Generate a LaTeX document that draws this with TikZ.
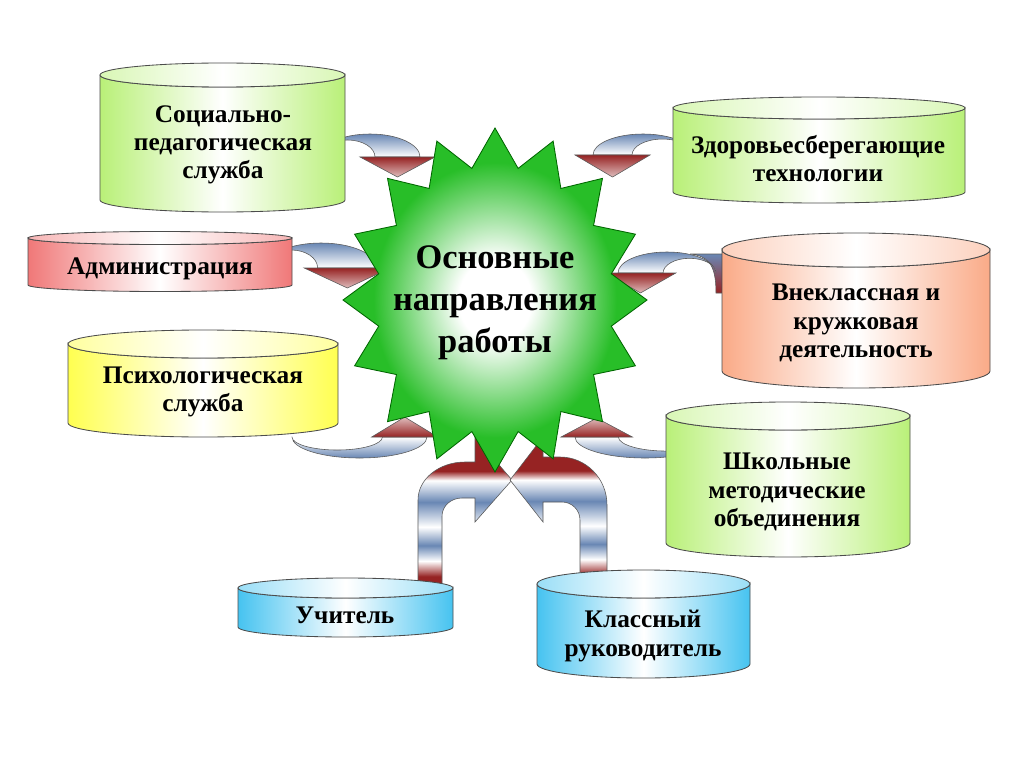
\documentclass[tikz,border=0pt]{standalone}
\usepackage{fontspec}
\setmainfont{Liberation Serif}
\usetikzlibrary{calc}

\definecolor{drumgreen}{RGB}{185,240,120}
\definecolor{drumpink}{RGB}{240,120,120}
\definecolor{drumpeach}{RGB}{250,170,135}
\definecolor{drumyellow}{RGB}{255,255,80}
\definecolor{drumblue}{RGB}{70,195,240}
\definecolor{stargreen}{RGB}{40,190,40}
\definecolor{steel}{RGB}{105,135,180}
\definecolor{headred}{RGB}{150,35,35}

% metal look of the two bent arrows
\pgfdeclareverticalshading{pipe}{100bp}{color(0bp)=(headred); color(25bp)=(headred); color(30bp)=(headred);
  color(35bp)=(white); color(40bp)=(steel); color(46bp)=(white); color(54bp)=(steel);
  color(61bp)=(white); color(64bp)=(headred); color(100bp)=(headred)}
\pgfdeclareradialshading{glow}{\pgfpoint{0bp}{0bp}}{color(0bp)=(white); color(6bp)=(white);
  color(20bp)=(stargreen); color(50bp)=(stargreen)}

\tikzset{
  barrel/.style={draw=black!70, line width=0.6pt},
  lbl/.style={align=center, font=\bfseries\fontsize{18}{20}\selectfont},
  bowline/.style={draw=black!65, line width=0.4pt},
  bodydown/.style={bowline, top color=steel, bottom color=white},
  bodyup/.style={bowline, top color=white, bottom color=steel},
  headdown/.style={bowline, top color=headred, bottom color=headred!30},
  headup/.style={bowline, top color=headred!30, bottom color=headred},
  pipeline/.style={draw=black!65, line width=0.4pt, shading=pipe}
}

% colour, left x, right x, top y, bottom y, rim
\newcommand{\barrel}[6]{%
  \pgfmathsetmacro{\brx}{(#3-#2)/2}
  \shade[barrel, left color=#1, right color=#1, middle color=white]
    (#2,-#4) -- (#2,-#5) arc[start angle=180, end angle=360, x radius=\brx, y radius=#6]
    -- (#3,-#4) arc[start angle=0, end angle=-180, x radius=\brx, y radius=#6] -- cycle;
  \shade[barrel, left color=#1!55, right color=#1!55, middle color=white]
    ({(#2+#3)/2},-#4) ellipse[x radius=\brx, y radius=#6];
}

% placement, inner end, inner height, head overhang, head depth, up/down
\newcommand{\ribbon}[6]{%
  \begin{scope}[#1]
    \shade[body#6] (0,0) arc[start angle=180, end angle=0, x radius=0.5, y radius=1]
      -- (#2,0) arc[start angle=0, end angle=180, x radius={#2/2}, y radius=#3] -- cycle;
    \shade[head#6] ({#2-#4},0) -- ({1+#4},0) -- ({(1+#2)/2},-#5) -- cycle;
  \end{scope}
}

\begin{document}
\begin{tikzpicture}[x=0.025cm, y=0.025cm]
  \useasboundingbox (0,0) rectangle (1024,-768);
  \fill[white] (0,0) rectangle (1024,-768);

  % curved arrows
  \ribbon{shift={(320,-157)}, xscale=100, yscale=23}{0.55}{0.74}{0.15}{0.87}{down}
  \ribbon{shift={(693,-155)}, xscale=-100, yscale=21}{0.61}{0.76}{0.18}{1.05}{down}
  \ribbon{shift={(265,-268)}, xscale=112, yscale=25}{0.47}{0.72}{0.12}{0.8}{down}
  % back of the ribbon going into the cylinder
  \shade[bowline, top color=steel, bottom color=headred] (690,-254) .. controls (708,-256) and (716,-264) .. (716,-293)
    -- (726,-293) -- (726,-254) -- cycle;
  \ribbon{shift={(716,-273)}, xscale=-98, yscale=21}{0.54}{0.7}{0.13}{0.95}{down}
  \ribbon{shift={(292,-437)}, xscale=135, yscale=-21}{0.67}{0.62}{0.08}{0.95}{up}
  \ribbon{shift={(715,-437)}, xscale=-140, yscale=-21}{0.69}{0.67}{0.1}{0.9}{up}

  % bent arrows from the bottom
  \shade[pipeline] (418,-592) -- (418,-500) arc[start angle=180, end angle=90, x radius=47, y radius=38]
    -- (475,-462) -- (475,-437) -- (512,-480) -- (475,-522) -- (475,-498) -- (462,-498)
    arc[start angle=90, end angle=180, x radius=20, y radius=18] -- (442,-592) -- cycle;
  \shade[pipeline] (607,-590) -- (607,-505) arc[start angle=0, end angle=90, x radius=47, y radius=48]
    -- (543,-457) -- (543,-437) -- (510,-480) -- (543,-522) -- (543,-502) -- (562,-502)
    arc[start angle=90, end angle=0, x radius=18, y radius=18] -- (580,-590) -- cycle;

  % star
  \shade[shading=glow, draw=black!60!green, line width=0.6pt, shift={(495,-300)}]
    (90:152 and 172) \foreach \i [evaluate=\i as \r using {mod(\i,2)==0 ? 1 : 0.78}] in {1,...,31} {
      -- ({90+\i*11.25}:{152*\r} and {172*\r}) } -- cycle;
  \node[align=center, font=\bfseries\fontsize{24.5}{30}\selectfont] (hub) at (495,-303)
    {Основные\\направления\\работы};

  % cylinders
  \barrel{drumgreen}{100}{345}{75}{200}{12}
  \node[lbl] (social) at (223,-145) {Социально-\\педагогическая\\служба};
  \barrel{drumgreen}{673}{965}{108}{192}{11}
  \node[lbl] (health) at (818,-159) {Здоровьесберегающие\\технологии};
  \barrel{drumpink}{28}{292}{238}{285}{6.5}
  \node[lbl] (admin) at (160,-269) {Администрация};
  \barrel{drumpeach}{722}{990}{250}{371}{17}
  \node[lbl] (extra) at (856,-323) {Внеклассная и\\кружковая\\деятельность};
  \barrel{drumyellow}{68}{338}{344}{423}{14}
  \node[lbl] (psych) at (203,-392) {Психологическая\\служба};
  \barrel{drumgreen}{666}{910}{416}{543}{14}
  \node[lbl] (school) at (787,-492) {Школьные\\методические\\объединения};
  \barrel{drumblue}{238}{453}{588}{627}{10}
  \node[lbl] (teacher) at (345,-615) {Учитель};
  \barrel{drumblue}{537}{750}{584}{664}{14}
  \node[lbl] (mentor) at (643,-636) {Классный\\руководитель};
\end{tikzpicture}
\end{document}
